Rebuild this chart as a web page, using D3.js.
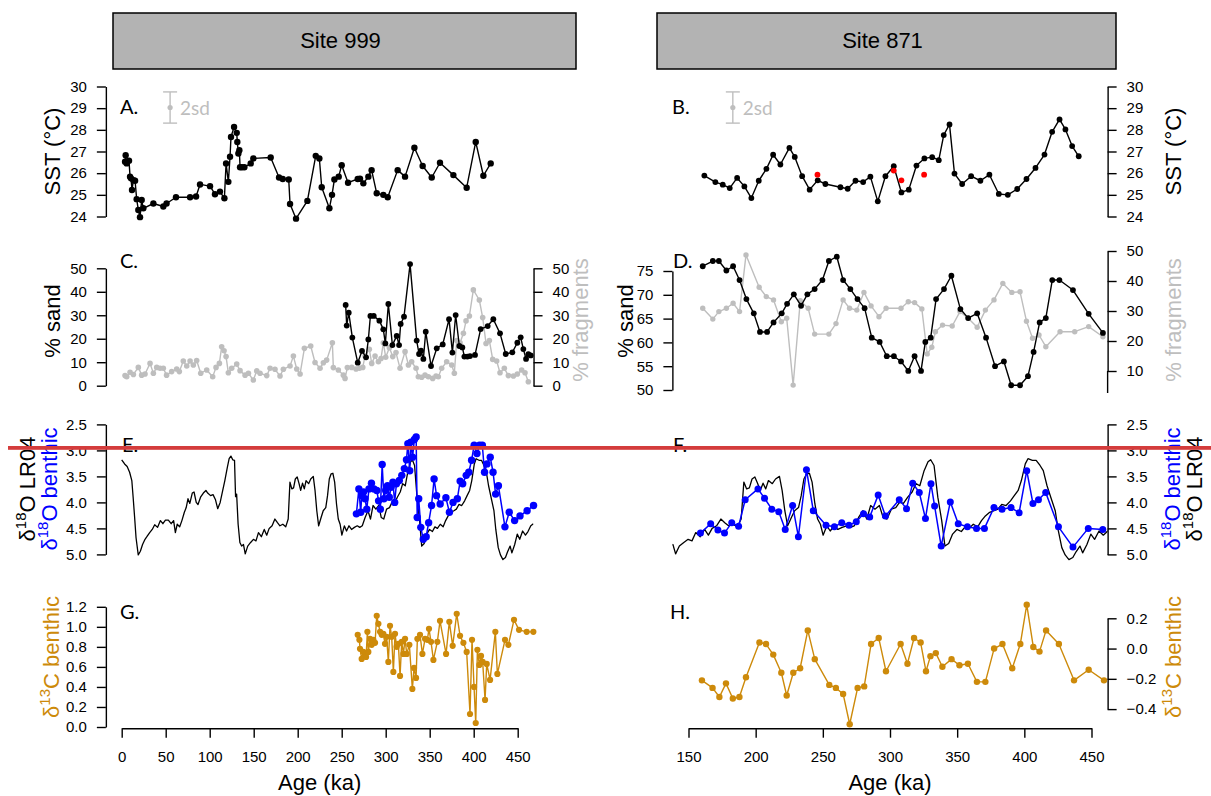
<!DOCTYPE html>
<html><head><meta charset="utf-8">
<script src="https://cdn.jsdelivr.net/npm/d3@7"></script>
<style>body{margin:0;background:#fff}svg{display:block}</style>
</head><body><svg id="c" width="1211" height="796"></svg>
<script>
// ---------------- DATA ----------------
const sites = ["Site 999", "Site 871"];
const panelLabels = ["A.", "B.", "C.", "D.", "E.", "F.", "G.", "H."];

const xTicksL = [0,50,100,150,200,250,300,350,400,450];
const xTicksR = [150,200,250,300,350,400,450];
const sstTicks = [24,25,26,27,28,29,30];
const sandCTicks = [0,10,20,30,40,50];
const sandDTicks = [50,55,60,65,70,75];
const fragDTicks = [10,20,30,40,50];
const d18Ticks = [2.5,3.0,3.5,4.0,4.5,5.0];
const d13GTicks = [0,0.2,0.4,0.6,0.8,1.0,1.2];
const d13HTicks = [-0.4,-0.2,0,0.2];

// 2sd error bars
const errAge = [55, 183];
const errSST = [29.03, 29.03];
const err2sd = [0.72, 0.72];

// A. Site 999 SST
const sstA_age = [3.8,4.5,5.7,8.3,9.5,10.6,11.7,13.3,15.2,17,18.9,20.8,22.7,24.6,36,47.3,51,61.7,77.7,84.5,89,100.4,106,111.7,116.7,118.6,121.2,123.1,124.2,127.7,130.7,131.4,132.6,133.7,134.5,136.7,139.4,146.6,149.6,169.3,178.8,183,189.8,191.3,198.1,211,220.5,224.6,227.3,236,239,241.7,246.6,250,257.2,268.2,270.8,274.6,280.3,284,289.8,297.3,302.3,313.6,322,332.6,342,352.3,361.7,376.9,392,402.3,411,419.3];
const sstA_val = [26.53,26.83,26.45,26.57,25.84,25.76,25.22,25.68,25.65,24.8,24.3,23.97,24.76,24.38,24.6,24.46,24.6,24.89,24.89,24.92,25.48,25.4,25.03,25.15,24.84,26.45,25.6,26.76,27.67,28.13,27.86,27.44,26.91,27.06,26.27,26.27,26.27,26.45,26.68,26.72,25.8,25.73,25.71,24.58,23.9,24.72,26.8,26.68,25.35,24.38,25,25.71,25.84,26.37,25.56,25.73,25.74,25.53,25.84,26.14,25.07,25,24.89,26.14,25.84,27.17,26.33,25.8,26.48,25.91,25.33,27.44,25.88,26.45];

// B. Site 871 SST
const sstB_age = [161.8,170,175.5,180.7,186.2,191.6,196.8,202.3,208,213,218.4,225.1,229.1,234.6,240.2,246.2,251.9,263.1,268.5,274.3,280,285.4,290.9,296.6,302.8,308.5,314,319.7,325.6,331.4,336.3,340,344.3,348,353.7,360.4,367.3,374,381,387.7,394.7,401.6,408.3,415,420.7,426.2,430.6,435.6,440.5];
const sstB_val = [25.89,25.59,25.47,25.31,25.78,25.39,24.85,25.65,26.2,26.85,26.4,27.17,26.75,25.86,25.24,25.67,25.5,25.35,25.28,25.65,25.59,25.84,24.7,25.86,26.32,25.11,25.24,26.35,26.68,26.74,26.6,27.76,28.25,25.98,25.5,25.86,25.65,25.93,25.04,25,25.27,25.73,26.24,26.86,27.91,28.48,28.02,27.25,26.78];
const sstBred_age = [246,302.8,308.5,325.4];
const sstBred_val = [25.93,26.12,25.67,25.93];

// C. Site 999 % sand and % fragments
const sandC_age = [254.5,255.7,258,262.1,268.2,273.1,277.7,280.3,282.6,286.4,292.8,297.3,299.6,303,307.6,312.5,315.2,317,320.8,327.7,335.2,337.9,340.2,342.8,345.5,351.5,358,364.8,372,375.8,379.5,383.7,387.1,389.4,392.8,395.8,401.5,407.9,415.9,422.3,429.9,436.4,443.9,449.6,453.4,456.4,459.5,462.1,464.8];
const sandC_val = [34.4,25.6,31.1,20.5,9.8,14.8,12.1,19.7,29.7,29.7,27.7,24,18,34.8,17.3,21.2,17.3,26.3,29.4,51.8,19.2,13.5,14.9,11.4,23,8.4,15.9,17.6,28.3,14.1,30.1,16.9,16.3,12.4,12.4,12.6,13.1,24.1,25.4,28.3,22.3,13.5,14.2,18.3,20.6,15.6,11.4,13.4,12.9];
const fragC_age = [3.8,5.7,9.5,13.3,18.9,22.7,26.5,32.2,36,39.8,43.6,47.3,51,56.8,62.5,65.5,70,73.9,77.7,81.4,85.2,89.8,96.6,103.4,107.2,111,113.6,116.3,118.6,121.2,125,130.7,134.5,140.2,144,149.6,153.4,157.2,164.8,168.6,174.2,179.9,183.7,191.3,195.1,198.9,202.7,207.6,214.8,219.7,225.4,229.2,232.9,239.4,240.5,246.2,251.9,253.8,256.4,261.4,266.3,270.1,273.9,276.5,281.4,284.1,287.9,291.7,294.7,297.3,300,304.2,308,311.7,316.3,322,325.8,329.5,334.5,337.1,340.9,344.7,348.5,353.4,357.2,359.8,363.6,369.3,375,378,380.7,384.5,388.3,391.3,395.1,399.6,406.4,410.2,414,417.8,421.6,426.1,429.9,434.8,439.4,445.1,449.6,454.5,458.3,462.1];
const fragC_val = [4.3,3.8,5.7,4.8,7.8,4.5,5,9.5,5.3,7.8,7.4,7.4,4.5,6,7.1,6,10.5,8.4,10.5,8.8,10.7,5.3,6.7,3.8,7.8,9.5,16.6,14.9,12.4,5.5,7.4,9.2,6.4,4.5,5.3,2.4,6.3,5.3,4.3,7.4,7,4.1,7,8.4,12.6,7.1,5,15.9,16.9,9.9,7.4,9.8,10.9,18.3,7.7,6.7,4.5,3.1,7.7,7.8,7.1,7.4,7.8,12.6,15.5,9.5,12.6,10.2,11.6,18.3,12.1,16.2,12.4,14.1,7.4,14.5,8.8,10.2,7.4,3.8,3.6,4.5,3.8,3.1,4.1,3.8,7.4,10.2,8.8,5.3,19.2,18.3,22.3,27.6,29.7,40.8,36.5,29,18,19.2,11.2,10.5,5.5,7.4,4.3,4.1,5,6.7,5.5,1.7];

// D. Site 871 % sand and % fragments
const sandD_age = [160.6,168.1,172.6,178.2,183.2,188,193.1,198.6,203.2,208.5,213.3,219.4,223.4,228.4,233.8,238.5,243.9,249.7,254.5,260.4,265.1,270.5,275.8,281.1,286.4,292.3,297.6,302.9,308.2,313.6,318.3,323.1,326.3,330.3,334.3,340.2,345.7,352.4,358.2,364.9,371.5,378.2,384.8,390.2,396.8,402.7,406.9,411.4,416,420.8,426.1,436.2,447.9,458.5];
const sandD_val = [76,77.1,77.1,75.1,76,73.1,69.1,66.1,62.2,62.2,64.2,66.1,68.1,70.1,67.7,70.1,71.2,73.1,77.1,78,73.1,71.2,69.1,67.2,61,60.1,57.1,57.1,56,54,57.1,54,60.1,61,69.1,71.2,74,67,65.1,66.1,61,55,56,51,51,52.9,58,64.2,65.1,73.1,73.1,71,66,62];
const fragD_age = [160.6,168.1,172.6,178.2,183.2,188,192.8,202.6,207.9,213.3,219.1,223.1,227.9,233.2,239.1,243.9,254.5,259.8,265.1,269.9,275.3,280.6,285.9,291.8,297.1,308.2,313.6,318.3,323.7,327.7,331.1,333.8,339.1,346.3,352.1,358.2,364.9,371,377.4,384,390.7,396.8,401.6,406.1,410.9,416,426.6,437.5,447.9,458.5];
const fragD_val = [30.9,27.3,29.8,30.9,32.6,29.8,48.7,37.9,34.8,33.7,26.4,27.6,5.3,33.4,30.9,22.3,22.3,25.8,33.7,30.9,30.3,36.2,31.7,28.1,30.9,30.9,33.1,32.8,30.7,15.7,17.9,23.1,25.3,25,29.8,27.6,24.6,30.3,33.7,39.2,36.2,36.4,26.6,20.9,22,18.1,23.1,23.1,24.8,21.4];

// LR04 benthic stack (shared by E and F)
const lr04_age = [0,3.3,6.2,9,11.5,13,14.7,16.3,18.8,21.2,23.7,26.5,28.6,31.8,34.7,37.5,40.8,44,46.8,49.7,53,56.2,59,61,63.1,65.9,68.4,71.2,73.3,75.3,77.4,80.2,82.2,84.7,86.7,89.6,92.8,95.7,97.7,101,103.8,106.6,109.1,111.9,114.8,117.2,120.1,122.1,124.1,126.2,128.2,129.4,130.6,132.3,134.3,136.3,138.4,140.4,143.2,146.5,149.7,152.6,155.4,158.7,162,164.8,167.6,170.9,174.1,177,179.8,183.1,186.4,189.2,191.2,193.3,195.3,197.3,199.4,201.4,203.4,205.5,207.5,209.5,212.4,214.8,217.7,219.7,221.7,223.8,226.6,229,231.9,233.9,235.9,238,240,242,244.1,246.1,248.2,250.2,253,255.5,258.3,261.2,264.4,267.7,270.5,273.4,276.6,279.9,282.7,285.6,288.8,292.1,294.9,297.8,301,304.3,307.1,310,313.2,316.5,319.3,322.2,325.4,328.3,330.3,332.8,335.6,338.5,340.9,343.7,346.6,349.8,353.1,355.9,358.8,362,365.3,368.1,371,374.2,377.5,380.3,383.2,386.4,389.7,392.5,395.4,397.8,400.7,402.7,406,408.8,411.7,414.1,416.9,419.8,423,425.1,427.9,430.4,433.2,436.1,438.5,441.4,443.4,446.6,449.5,452.3,455.6,458.8,461.7,464.9,467.8];
const lr04_val = [3.18,3.26,3.31,3.42,3.58,3.9,4.29,4.68,5.01,4.94,4.81,4.71,4.66,4.58,4.52,4.43,4.48,4.35,4.41,4.34,4.34,4.41,4.35,4.58,4.42,4.47,4.35,4.19,4.1,3.93,4.02,3.82,3.8,4.0,4.04,3.9,3.82,3.77,3.82,3.87,3.85,3.95,4.12,4.0,3.77,3.58,3.32,3.16,3.11,3.18,3.19,3.89,3.84,4.42,4.77,4.84,4.81,4.99,4.84,4.77,4.71,4.74,4.58,4.66,4.52,4.63,4.5,4.45,4.32,4.39,4.45,4.42,4.47,4.32,3.61,3.74,3.72,3.55,3.51,3.63,3.77,3.63,3.74,3.58,3.64,3.55,3.5,3.77,4.16,4.45,4.29,4.16,4.1,3.87,3.55,3.45,3.44,3.61,4.03,4.32,4.42,4.63,4.45,4.55,4.45,4.52,4.48,4.45,4.48,4.45,4.29,4.16,4.32,4.06,4.13,4.06,4.29,4.32,4.13,4.1,4.0,4.02,3.9,3.8,3.64,3.68,3.39,3.22,3.18,3.29,3.9,4.35,4.84,4.79,4.61,4.52,4.56,4.47,4.5,4.42,4.47,4.35,4.26,4.19,4.16,4.13,4.04,4.06,3.97,3.87,3.77,3.58,3.26,3.16,3.19,3.19,3.29,3.39,3.68,3.91,4.16,4.52,4.87,5.01,5.1,5.06,4.95,4.84,4.97,4.81,4.61,4.71,4.55,4.63,4.56,4.45,4.41];

// E. Site 999 benthic d18O
const d18E_age = [266.7,269.5,271.6,272.8,274.8,276.5,278.5,281,283.8,286.6,289.9,291.9,293.9,296,298,300,302.1,304.1,306.1,308.2,310.2,312.2,315.5,318.3,321.2,323.6,325.2,327.3,328.5,330.5,332.6,334.6,335.8,337.5,339.9,342.7,346,348.8,352.1,355,357.8,361.9,368.4,372.4,376.5,381.4,384.6,387.5,391.5,394.4,397.6,400.5,403.7,406.6,409.8,412.3,415.1,418.8,422,424.9,428.1,435.5,440.4,446.5,452.6,460.7,468];
const d18E_val = [4.22,3.74,4.19,3.87,3.8,3.93,4.13,3.74,3.63,3.74,3.77,3.97,4.13,3.27,3.93,3.77,3.68,3.9,3.71,3.61,4.0,3.64,3.58,3.48,3.35,3.18,2.87,3.39,2.84,3.13,2.79,2.74,4.29,3.93,4.48,4.71,4.66,4.39,4.06,3.55,3.87,4.03,3.91,4.19,4.0,3.93,3.59,3.64,3.48,3.42,3.19,2.9,3.06,2.9,2.9,3.42,3.26,3.13,3.42,3.84,3.68,4.47,4.19,4.35,4.26,4.16,4.06];

// F. Site 871 benthic d18O
const d18F_age = [158.9,166.5,171.9,176.8,182.2,187.3,192.2,201.7,206.6,212,217.2,222,227.5,231.8,237.8,242.9,252.4,258.6,264.1,269.5,274.9,280.3,284.9,291.2,296.6,306.9,312.3,316.9,321.8,326.4,330.5,333.2,338.1,344.9,350.8,357.6,364.4,370.3,377.4,383.4,390.1,396.1,401.8,406.4,410.5,415.9,425.4,436.2,447.6,458.4];
const d18F_val = [4.59,4.41,4.53,4.59,4.39,4.46,3.95,3.74,3.92,4.13,4.18,4.52,4.06,4.66,3.37,4.16,4.44,4.47,4.39,4.44,4.37,4.22,4.28,3.86,4.26,3.95,4.12,3.63,3.81,4.31,3.64,4.07,4.84,3.99,4.41,4.47,4.5,4.5,4.1,4.13,4.1,4.2,3.39,4.02,3.95,3.81,4.47,4.86,4.5,4.52];

// G. Site 999 benthic d13C
const d13G_age = [268.2,270.1,270.8,272.7,274.6,276.5,277.7,279.2,280.3,282.2,284.1,286,287.9,289.8,291.7,293.6,295.5,297.3,299.2,301.1,303,304.9,306.8,308.7,310.6,312.5,314.4,316.3,318.2,320.1,322,323.9,326.9,330.3,332.2,334.5,336,339,341.7,344.7,347.3,349.2,351.5,354.2,358.7,361.7,368.6,372.3,376.1,380.7,384.5,388.3,392,395.8,398.1,400.4,402.3,404.2,406.4,408.3,410.2,412.9,414.8,418.6,424.6,426.9,435.6,439.4,445.8,451.5,460.2,467.8];
const d13G_val = [0.92,0.87,0.78,0.68,0.75,0.72,0.7,0.95,0.75,0.88,0.82,0.87,0.84,1.11,1.03,0.95,0.92,0.93,0.83,0.9,0.65,1.01,0.9,0.55,0.93,0.8,0.83,0.51,0.85,0.73,0.88,0.73,0.82,0.38,0.59,0.49,0.88,0.92,0.73,0.88,0.87,0.98,0.85,0.67,0.85,1.06,0.73,1.05,0.81,1.13,0.91,0.84,0.75,0.13,0.87,0.4,0.04,0.77,0.62,0.71,0.65,0.27,0.63,0.47,0.95,0.53,0.87,0.82,1.07,0.97,0.95,0.95];

// H. Site 871 benthic d13C
const d13H_age = [160,167.9,173,177.9,183,187.9,192.8,202.8,207.7,213.1,219.1,223.1,228,233.1,238.8,244,254.8,259.7,265.1,270,275.9,280.8,285.9,291.6,297,307.9,313,317.9,322.8,326.8,330.1,334.1,339,345.8,351.7,358,364.7,371,377.5,383.7,391,397,401.8,406.7,411.3,416.2,425.7,437,447.9,459.3];
const d13H_val = [-0.21,-0.26,-0.32,-0.23,-0.33,-0.32,-0.19,0.04,0.03,-0.04,-0.16,-0.31,-0.16,-0.13,0.12,-0.07,-0.24,-0.26,-0.3,-0.5,-0.26,-0.25,0.03,0.07,-0.15,0.03,-0.1,0.07,0.04,-0.15,-0.05,-0.03,-0.12,-0.07,-0.11,-0.1,-0.22,-0.22,0.0,0.03,-0.13,0.03,0.29,0.01,-0.02,0.12,0.03,-0.21,-0.14,-0.21];

// ---------------- DRAWING ----------------
const FONT = "'Liberation Sans', Arial, Helvetica, sans-serif";
const LFONT = "Lato, 'Open Sans', sans-serif";
const GRAY = "#bebebe", BLUE = "#0000ff", ORANGE = "#cd8a0a", RED = "#ff0000";
const svg = d3.select("#c");

const xL = d3.scaleLinear().domain([0, 450]).range([121.7, 517.7]);
const xR = d3.scaleLinear().domain([150, 450]).range([688.5, 1091.5]);
const xLmin = xL(-18), xLmax = xL(468), xRmin = xR(138), xRmax = xR(462);

const ySST = d3.scaleLinear().domain([24, 30]).range([216.5, 86.5]);
const yC = d3.scaleLinear().domain([0, 50]).range([385.7, 268.3]);
const ySandD = d3.scaleLinear().domain([50, 75]).range([390, 271]);
const yFragD = d3.scaleLinear().domain([10, 50]).range([371, 251]);
const yO = d3.scaleLinear().domain([2.5, 5.0]).range([424.4, 554.4]);
const yG = d3.scaleLinear().domain([0, 1.2]).range([727, 606.8]);
const yH = d3.scaleLinear().domain([-0.4, 0.2]).range([709.1, 618.3]);
const xAxisY = 728.3;

const defs = svg.append("defs");
defs.append("clipPath").attr("id", "clipL").append("rect").attr("x", xLmin).attr("y", 0).attr("width", xLmax - xLmin).attr("height", 796);
defs.append("clipPath").attr("id", "clipR").append("rect").attr("x", xRmin).attr("y", 0).attr("width", xRmax - xRmin).attr("height", 796);

function styleAxis(g) {
  g.attr("font-size", 15).attr("font-family", FONT);
  g.selectAll("path.domain").attr("stroke", "#000").attr("stroke-width", 1.4);
  g.selectAll(".tick line").attr("stroke", "#000").attr("stroke-width", 1.4);
  g.selectAll(".tick text").attr("fill", "#000");
}
function axisAt(axis, x, y) {
  const g = svg.append("g").attr("transform", `translate(${x},${y})`).call(axis);
  styleAxis(g);
  return g;
}
const f0 = d3.format("d"), f1 = d3.format(".1f");
function yLeft(scale, ticks, fmt, x) { return axisAt(d3.axisLeft(scale).tickValues(ticks).tickFormat(fmt).tickSize(9).tickSizeOuter(0).tickPadding(10), x, 0); }
function yRight(scale, ticks, fmt, x) { return axisAt(d3.axisRight(scale).tickValues(ticks).tickFormat(fmt).tickSize(9).tickSizeOuter(0).tickPadding(10), x, 0); }

function series(ages, vals, sx, sy, color, r, lw, clip) {
  const data = ages.map((a, i) => [a, vals[i]]);
  const g = svg.append("g");
  if (clip) g.attr("clip-path", `url(#${clip})`);
  g.append("path").datum(data)
    .attr("d", d3.line().x(d => sx(d[0])).y(d => sy(d[1])))
    .attr("fill", "none").attr("stroke", color).attr("stroke-width", lw).attr("stroke-linejoin", "round");
  if (r > 0) g.selectAll("circle").data(data).join("circle")
    .attr("cx", d => sx(d[0])).attr("cy", d => sy(d[1])).attr("r", r).attr("fill", color);
}
function points(ages, vals, sx, sy, color, r) {
  svg.append("g").selectAll("circle").data(ages.map((a, i) => [a, vals[i]])).join("circle")
    .attr("cx", d => sx(d[0])).attr("cy", d => sy(d[1])).attr("r", r).attr("fill", color);
}
function rtitle(x, y, segs, color) {
  const t = svg.append("text").attr("transform", `translate(${x},${y}) rotate(-90)`)
    .attr("text-anchor", "middle").attr("font-family", FONT).attr("font-size", 22).attr("fill", color);
  segs.forEach(s => {
    const ts = t.append("tspan").text(s.t);
    if (s.sup) ts.attr("font-size", 15).attr("dy", -9);
    if (s.down) ts.attr("dy", 9);
  });
}
function plabel(x, y, txt) {
  svg.append("text").attr("x", x).attr("y", y).attr("font-family", LFONT).attr("font-size", 20).attr("fill", "#000").text(txt);
}
const d18segs = (name) => [{ t: "\u03b4" }, { t: "18", sup: true }, { t: "O " + name, down: true }];
const d13segs = [{ t: "\u03b4" }, { t: "13", sup: true }, { t: "C benthic", down: true }];

// Title boxes
const boxes = [[113, 576], [657, 1116]];
boxes.forEach((b, i) => {
  svg.append("rect").attr("x", b[0]).attr("y", 13).attr("width", b[1] - b[0]).attr("height", 56)
    .attr("fill", "#b3b3b3").attr("stroke", "#000").attr("stroke-width", 1.5);
  svg.append("text").attr("x", (b[0] + b[1]) / 2 - 4).attr("y", 48).attr("text-anchor", "middle")
    .attr("font-family", FONT).attr("font-size", 22).attr("fill", "#000").text(sites[i]);
});

// ---- Panel A
yLeft(ySST, sstTicks, f0, xLmin);
rtitle(60, 151.5, [{ t: "SST (\u00b0C)" }], "#000");
series(sstA_age, sstA_val, xL, ySST, "#000", 3.2, 1.4);
plabel(120, 114, panelLabels[0]);
// ---- Panel B
yRight(ySST, sstTicks, f0, xRmax);
rtitle(1181, 151.5, [{ t: "SST (\u00b0C)" }], "#000");
series(sstB_age, sstB_val, xR, ySST, "#000", 2.9, 1.4);
points(sstBred_age, sstBred_val, xR, ySST, RED, 2.9);
plabel(672, 114, panelLabels[1]);

// 2sd error bars
[[xL, 0], [xR, 1]].forEach(([sx, i]) => {
  const cx = sx(errAge[i]);
  const g = svg.append("g").attr("stroke", GRAY).attr("stroke-width", 1.4);
  g.append("line").attr("x1", cx).attr("x2", cx).attr("y1", ySST(errSST[i] + err2sd[i])).attr("y2", ySST(errSST[i] - err2sd[i]));
  g.append("line").attr("x1", cx - 7).attr("x2", cx + 7).attr("y1", ySST(errSST[i] + err2sd[i])).attr("y2", ySST(errSST[i] + err2sd[i]));
  g.append("line").attr("x1", cx - 7).attr("x2", cx + 7).attr("y1", ySST(errSST[i] - err2sd[i])).attr("y2", ySST(errSST[i] - err2sd[i]));
  svg.append("circle").attr("cx", cx).attr("cy", ySST(errSST[i])).attr("r", 2.6).attr("fill", GRAY);
  svg.append("text").attr("x", cx + 10).attr("y", 115).attr("font-family", LFONT).attr("font-size", 19).attr("fill", GRAY).text("2sd");
});

// ---- Panel C
yLeft(yC, sandCTicks, f0, xLmin);
yRight(yC, sandCTicks, f0, xLmax);
rtitle(60, 321, [{ t: "% sand" }], "#000");
rtitle(588, 320, [{ t: "% fragments" }], GRAY);
series(fragC_age, fragC_val, xL, yC, GRAY, 2.8, 1.4);
series(sandC_age, sandC_val, xL, yC, "#000", 2.9, 1.4);
plabel(120, 267.5, panelLabels[2]);

// ---- Panel D
yLeft(ySandD, sandDTicks, f0, xRmin);
yRight(yFragD, fragDTicks, f0, xRmax);
svg.append("line").attr("x1", xRmax).attr("x2", xRmax).attr("y1", yFragD(10)).attr("y2", 393).attr("stroke", "#000").attr("stroke-width", 1.4);
rtitle(633, 321, [{ t: "% sand" }], "#000");
rtitle(1181, 320, [{ t: "% fragments" }], GRAY);
series(fragD_age, fragD_val, xR, yFragD, GRAY, 2.7, 1.4);
series(sandD_age, sandD_val, xR, ySandD, "#000", 2.9, 1.4);
plabel(673, 267.5, panelLabels[3]);

// ---- Panel E
yLeft(yO, d18Ticks, f1, xLmin);
rtitle(35, 489, d18segs("LR04"), "#000");
rtitle(57, 489, d18segs("benthic"), BLUE);
series(lr04_age, lr04_val, xL, yO, "#000", 0, 1.3, "clipL");
series(d18E_age, d18E_val, xL, yO, BLUE, 3.7, 1.5);
plabel(122, 452, panelLabels[4]);

// ---- Panel F
yRight(yO, d18Ticks, f1, xRmax);
rtitle(1180, 489, d18segs("benthic"), BLUE);
rtitle(1202, 489, d18segs("LR04"), "#000");
series(lr04_age, lr04_val, xR, yO, "#000", 0, 1.3, "clipR");
series(d18F_age, d18F_val, xR, yO, BLUE, 3.5, 1.5);
plabel(673, 452, panelLabels[5]);

// ---- Panel G
yLeft(yG, d13GTicks, f1, xLmin);
rtitle(59, 657, d13segs, ORANGE);
series(d13G_age, d13G_val, xL, yG, ORANGE, 3.1, 1.4);
plabel(120, 619, panelLabels[6]);

// ---- Panel H
yRight(yH, d13HTicks, f1, xRmax);
rtitle(1181, 657, d13segs, ORANGE);
series(d13H_age, d13H_val, xR, yH, ORANGE, 3.2, 1.4);
plabel(670, 619, panelLabels[7]);

// ---- Bottom axes
axisAt(d3.axisBottom(xL).tickValues(xTicksL).tickFormat(f0).tickSize(9.4).tickSizeOuter(0).tickPadding(14), 0, xAxisY);
axisAt(d3.axisBottom(xR).tickValues(xTicksR).tickFormat(f0).tickSize(9.4).tickSizeOuter(0).tickPadding(14), 0, xAxisY);
[[xLmin, xLmax], [xRmin, xRmax]].forEach(([a, b]) => {
  svg.append("text").attr("x", (a + b) / 2).attr("y", 790).attr("text-anchor", "middle")
    .attr("font-family", FONT).attr("font-size", 22).attr("fill", "#000").text("Age (ka)");
});

// red horizontal marker line across the figure
svg.append("rect").attr("x", 8).attr("y", 446).attr("width", 1203).attr("height", 3.8).attr("fill", "#d43c3c");
</script></body></html>
